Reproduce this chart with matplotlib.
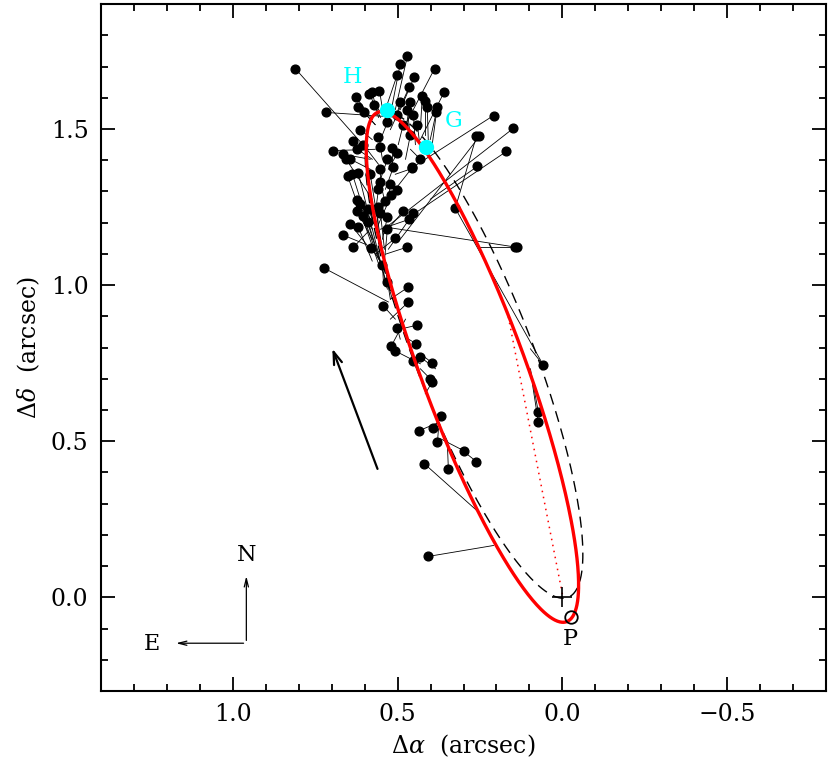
import numpy as np
import matplotlib
matplotlib.use("Agg")
import matplotlib.pyplot as plt
from matplotlib.ticker import MultipleLocator

plt.rcParams['font.family'] = ['DejaVu Serif']
plt.rcParams['mathtext.fontset'] = 'dejavuserif'

# observed positions (arcsec) and the other end of their residual lines
obs_x = [0.810, 0.470, 0.388, 0.492, 0.501, 0.449, 0.464, 0.358, 0.586, 0.555,
         0.577, 0.625, 0.619, 0.571, 0.425, 0.416, 0.410, 0.492, 0.461, 0.379,
         0.382, 0.716, 0.601, 0.531, 0.501, 0.470, 0.452, 0.483, 0.440, 0.461,
         0.613, 0.634, 0.561, 0.695, 0.665, 0.622, 0.604, 0.552, 0.516, 0.501,
         0.531, 0.643, 0.431, 0.455, 0.209, 0.149, 0.170, 0.261, 0.252, 0.258,
         0.325, 0.137, 0.143, 0.656, 0.513, 0.455, 0.652, 0.637, 0.619, 0.583,
         0.552, 0.552, 0.522, 0.501, 0.558, 0.519, 0.537, 0.622, 0.613, 0.622,
         0.589, 0.561, 0.552, 0.604, 0.531, 0.483, 0.452, 0.464, 0.643, 0.619,
         0.589, 0.531, 0.665, 0.507, 0.634, 0.580, 0.473, 0.722, 0.546, 0.531,
         0.467, 0.467, 0.543, 0.501, 0.440, 0.519, 0.507, 0.443, 0.431, 0.452,
         0.395, 0.401, 0.395, 0.367, 0.434, 0.392, 0.379, 0.300, 0.261, 0.419,
         0.346, 0.407, 0.058, 0.073, 0.073]
obs_y = [1.693, 1.735, 1.693, 1.709, 1.674, 1.668, 1.636, 1.620, 1.613, 1.623,
         1.617, 1.601, 1.572, 1.578, 1.607, 1.591, 1.572, 1.585, 1.585, 1.572,
         1.553, 1.553, 1.553, 1.521, 1.546, 1.562, 1.546, 1.514, 1.514, 1.482,
         1.498, 1.460, 1.473, 1.431, 1.419, 1.435, 1.450, 1.441, 1.438, 1.422,
         1.403, 1.403, 1.403, 1.377, 1.543, 1.502, 1.428, 1.476, 1.476, 1.380,
         1.246, 1.121, 1.121, 1.403, 1.377, 1.374, 1.351, 1.355, 1.358, 1.355,
         1.371, 1.329, 1.323, 1.304, 1.307, 1.288, 1.268, 1.272, 1.259, 1.236,
         1.243, 1.249, 1.230, 1.220, 1.217, 1.236, 1.230, 1.211, 1.195, 1.185,
         1.201, 1.179, 1.160, 1.150, 1.121, 1.118, 1.121, 1.054, 1.064, 1.010,
         0.994, 0.946, 0.933, 0.863, 0.872, 0.805, 0.789, 0.812, 0.770, 0.757,
         0.751, 0.700, 0.690, 0.581, 0.534, 0.543, 0.498, 0.470, 0.435, 0.428,
         0.412, 0.131, 0.744, 0.594, 0.562]
end_x = [0.598, 0.507, 0.476, 0.516, 0.537, 0.492, 0.498, 0.431, 0.552, 0.543,
         0.558, 0.577, 0.568, 0.537, 0.431, 0.416, 0.407, 0.507, 0.476, 0.401,
         0.395, 0.492, 0.568, 0.552, 0.522, 0.461, 0.446, 0.498, 0.431, 0.476,
         0.577, 0.589, 0.543, 0.568, 0.583, 0.577, 0.558, 0.546, 0.516, 0.528,
         0.552, 0.583, 0.461, 0.507, 0.455, 0.531, 0.452, 0.325, 0.492, 0.401,
         0.058, 0.531, 0.249, 0.577, 0.537, 0.507, 0.552, 0.537, 0.531, 0.522,
         0.552, 0.537, 0.528, 0.552, 0.568, 0.558, 0.558, 0.577, 0.571, 0.577,
         0.552, 0.558, 0.540, 0.558, 0.546, 0.543, 0.528, 0.552, 0.583, 0.577,
         0.546, 0.540, 0.598, 0.568, 0.589, 0.552, 0.537, 0.528, 0.543, 0.516,
         0.522, 0.522, 0.507, 0.492, 0.492, 0.476, 0.431, 0.467, 0.385, 0.461,
         0.431, 0.431, 0.416, 0.392, 0.385, 0.370, 0.376, 0.370, 0.310, 0.249,
         0.349, 0.209, 0.097, 0.097, 0.091]
end_y = [1.441, 1.562, 1.514, 1.578, 1.562, 1.562, 1.556, 1.466, 1.537, 1.546,
         1.537, 1.530, 1.514, 1.537, 1.498, 1.482, 1.466, 1.530, 1.498, 1.466,
         1.450, 1.537, 1.514, 1.466, 1.498, 1.466, 1.450, 1.450, 1.435, 1.403,
         1.466, 1.435, 1.435, 1.435, 1.403, 1.403, 1.387, 1.403, 1.387, 1.371,
         1.339, 1.371, 1.435, 1.307, 1.377, 1.188, 1.227, 1.246, 1.147, 1.275,
         0.744, 1.185, 1.121, 1.275, 1.307, 1.355, 1.051, 1.019, 0.987, 0.955,
         1.307, 1.259, 1.275, 1.243, 1.227, 1.195, 1.227, 1.179, 1.195, 1.147,
         1.147, 1.131, 1.115, 1.083, 1.147, 1.163, 1.115, 1.179, 1.115, 1.077,
         1.051, 1.077, 1.131, 1.099, 1.172, 1.077, 1.099, 0.946, 1.010, 0.955,
         0.955, 0.891, 0.891, 0.827, 0.859, 0.891, 0.748, 0.827, 0.732, 0.796,
         0.780, 0.732, 0.652, 0.540, 0.556, 0.572, 0.540, 0.508, 0.476, 0.268,
         0.492, 0.166, 0.796, 0.732, 0.684]

# special epochs
mark_x = [0.531, 0.413]
mark_y = [1.562, 1.441]
mark_labels = ['H', 'G']
label_x = [0.637, 0.331]
label_y = [1.665, 1.527]

# orbit ellipses: centre, and the cos/sin coefficients in x and y
fit_orbit = dict(xc=0.273, yc=0.738, ax=0.275, bx=0.168, ay=0.818)
old_orbit = dict(xc=0.268, yc=0.777, ax=0.270, bx=0.190, ay=0.780)
node_line_x = [0.0, 0.168]
node_line_y = [0.01, 0.92]
peri_x, peri_y = -0.026, -0.062


def ellipse(p, n=500):
    t = np.linspace(0, 2 * np.pi, n)
    return (p['xc'] + p['ax'] * np.cos(t) + p['bx'] * np.sin(t),
            p['yc'] + p['ay'] * np.cos(t))


fig = plt.figure(figsize=(8.3, 7.77), dpi=100)
ax = fig.add_axes([0.1217, 0.1107, 0.8735, 0.884])

# residual lines and data points
for x0, y0, x1, y1 in zip(obs_x, obs_y, end_x, end_y):
    ax.plot([x0, x1], [y0, y1], color='black', lw=0.6, zorder=2)
ax.plot(obs_x, obs_y, 'o', color='black', ms=6.3, zorder=3)

ox, oy = ellipse(old_orbit)
ax.plot(ox, oy, color='black', lw=1.0, dashes=(8, 5), zorder=2)
fx, fy = ellipse(fit_orbit)
ax.plot(fx, fy, color='red', lw=2.4, zorder=4)
ax.plot(node_line_x, node_line_y, color='red', lw=1.1, ls=(0, (1, 3)), zorder=2)

ax.plot(mark_x, mark_y, 'o', color='cyan', ms=10, zorder=5)
for lx, ly, s in zip(label_x, label_y, mark_labels):
    ax.text(lx, ly, s, color='cyan', fontsize=16, ha='center', va='center')

# centre and pericentre
ax.plot(0, 0, '+', color='black', ms=14, mew=1.2, zorder=5)
ax.plot(peri_x, peri_y, 'o', mfc='none', mec='black', ms=9, mew=1.3, zorder=5)
ax.text(peri_x + 0.002, peri_y - 0.072, 'P', fontsize=16, ha='center', va='center')

# direction of motion
ax.annotate('', xy=(0.701, 0.805), xytext=(0.558, 0.403),
            arrowprops=dict(arrowstyle='->,head_length=0.9,head_width=0.3', lw=1.6, color='black'))

# N / E compass
ax.annotate('', xy=(0.959, 0.077), xytext=(0.959, -0.147),
            arrowprops=dict(arrowstyle='->,head_length=0.6,head_width=0.15', lw=0.9, color='black'))
ax.annotate('', xy=(1.181, -0.147), xytext=(0.959, -0.147),
            arrowprops=dict(arrowstyle='->,head_length=0.6,head_width=0.15', lw=0.9, color='black'))
ax.text(0.959, 0.134, 'N', fontsize=16, ha='center', va='center')
ax.text(1.244, -0.150, 'E', fontsize=16, ha='center', va='center')

ax.set_xlim(1.4, -0.8)
ax.set_ylim(-0.3, 1.9)
ax.xaxis.set_major_locator(MultipleLocator(0.5))
ax.xaxis.set_minor_locator(MultipleLocator(0.1))
ax.yaxis.set_major_locator(MultipleLocator(0.5))
ax.yaxis.set_minor_locator(MultipleLocator(0.1))
ax.xaxis.set_major_formatter(plt.FuncFormatter(lambda v, p: f'{v:.1f}'.replace('-', '\u2212')))
ax.yaxis.set_major_formatter(plt.FuncFormatter(lambda v, p: f'{v:.1f}'))
ax.tick_params(which='both', direction='in', top=True, right=True, width=1.3, labelsize=17, pad=9)
ax.tick_params(which='major', length=10)
ax.tick_params(which='minor', length=5)
for s in ax.spines.values():
    s.set_linewidth(1.5)

ax.set_xlabel(r'$\Delta\alpha$  (arcsec)', fontsize=17, labelpad=4)
ax.set_ylabel(r'$\Delta\delta$  (arcsec)', fontsize=17, labelpad=6)

fig.savefig('out.png', dpi=100)
